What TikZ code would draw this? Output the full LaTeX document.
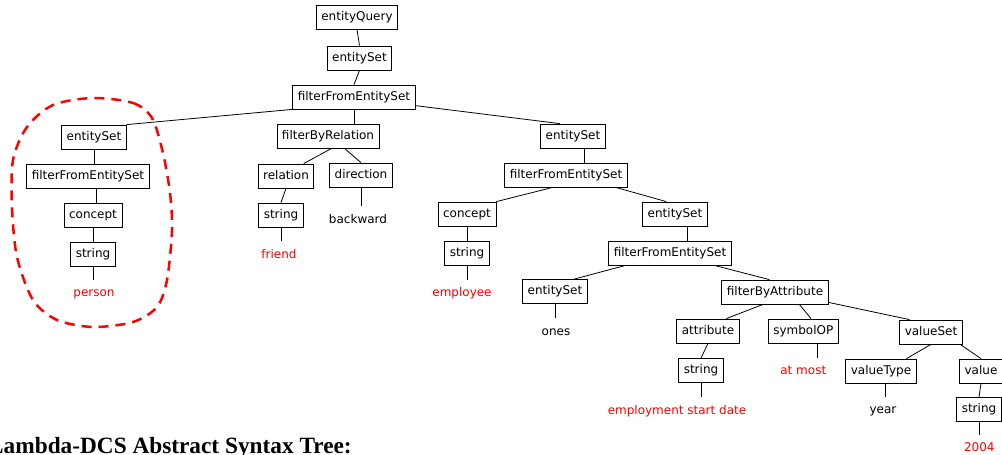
\documentclass[tikz,border=0pt]{standalone}
\usepackage{fontspec}
\setmainfont{DejaVu Sans}
\newfontfamily\headfont{Liberation Serif}
\begin{document}
\begin{tikzpicture}[x=1pt, y=-1pt,
	box/.style={draw, line width=0.8pt, inner xsep=5pt, inner ysep=6pt, text height=9pt, text depth=3pt, font=\fontsize{12}{14}\selectfont},
	leaf/.style={inner xsep=2pt, inner ysep=7.5pt, text height=9pt, text depth=3pt, font=\fontsize{12}{14}\selectfont},
	word/.style={leaf, text=red},
	edge/.style={line width=0.8pt}]
	\useasboundingbox (0,0) rectangle (1002,455);
	\node[box] (Q) at (357,17) {entityQuery};
	\node[box] (S1) at (359.5,58) {entitySet};
	\node[box] (F1) at (354,97) {filterFromEntitySet};
	\node[box] (S2) at (94,137) {entitySet};
	\node[box] (F2) at (88,176) {filterFromEntitySet};
	\node[box] (C1) at (93,215) {concept};
	\node[box] (T1) at (93,254) {string};
	\node[word] (person) at (94,293.5) {person};
	\node[box] (R) at (328,136) {filterByRelation};
	\node[box] (Rel) at (286,176) {relation};
	\node[box] (T2) at (281,215) {string};
	\node[word] (friend) at (279,255) {friend};
	\node[box] (Dir) at (361,175) {direction};
	\node[leaf] (backward) at (358,220) {backward};
	\node[box] (S3) at (573,136) {entitySet};
	\node[box] (F3) at (566,175) {filterFromEntitySet};
	\node[box] (C2) at (467,214) {concept};
	\node[box] (T3) at (467,253.5) {string};
	\node[word] (employee) at (462,293.5) {employee};
	\node[box] (S4) at (675,214) {entitySet};
	\node[box] (F4) at (670,253.5) {filterFromEntitySet};
	\node[box] (S5) at (555,291.5) {entitySet};
	\node[leaf] (ones) at (556,332) {ones};
	\node[box] (FA) at (775,292) {filterByAttribute};
	\node[box] (A) at (708,331) {attribute};
	\node[box] (T4) at (701,370.5) {string};
	\node[word] (date) at (677,411) {employment start date};
	\node[box] (OP) at (803.3,331) {symbolOP};
	\node[word] (atmost) at (803.3,371.5) {at most};
	\node[box] (VS) at (931,332) {valueSet};
	\node[box] (VT) at (881,371) {valueType};
	\node[leaf] (year) at (883,410.5) {year};
	\node[box] (V) at (981,371) {value};
	\node[box] (T5) at (979,409.5) {string};
	\node[word] (num) at (979.3,448.5) {2004};
	\foreach \a/\b in {Q.south/S1.north, S1.south/F1.north, F1.south west/S2.north east, F1.-8/S3.137,
		R.-74/Rel.35, R.-37/Dir.north, Rel.south/T2.north, C1.south/T1.north,
		F3.-137/C2.north east, F3.-14/S4.125, C2.south/T3.north, F4.-165/S5.33, F4.-15/FA.114,
		FA.-134/A.34, FA.-27/OP.58, FA.-11/VS.150, A.south/T4.north,
		VS.south/VT.26, VS.-23/V.north, V.south/T5.north}
		\draw[edge] (\a) -- (\b);
	\foreach \a/\b in {F1.south/R, S2.south/F2, F2.-56/C1, S3.-47/F3, S4.-44/F4,
		T1.south/person, T2.south/friend, Dir.south/backward, T3.south/employee, S5.south/ones,
		T4.south/date, OP.-41/atmost, VT.-69/year, T5.south/num}
		\draw[edge] (\a) -- (\a |- \b.north);
	\draw[red, line width=2.5pt, dash pattern=on 10pt off 7pt] plot[smooth cycle] coordinates {
		(93,98) (133,103) (152,118) (163,153) (170,193) (172,230) (167,280) (157,307)
		(133,322) (93,327) (57,320) (33,300) (17,257) (12,207) (13,160) (27,127) (53,105)};
	\node[anchor=base west, inner sep=0pt, font=\headfont\bfseries\fontsize{23.3}{26}\selectfont] (title) at (-12,453.5) {Lambda-DCS Abstract Syntax Tree:};
\end{tikzpicture}
\end{document}
